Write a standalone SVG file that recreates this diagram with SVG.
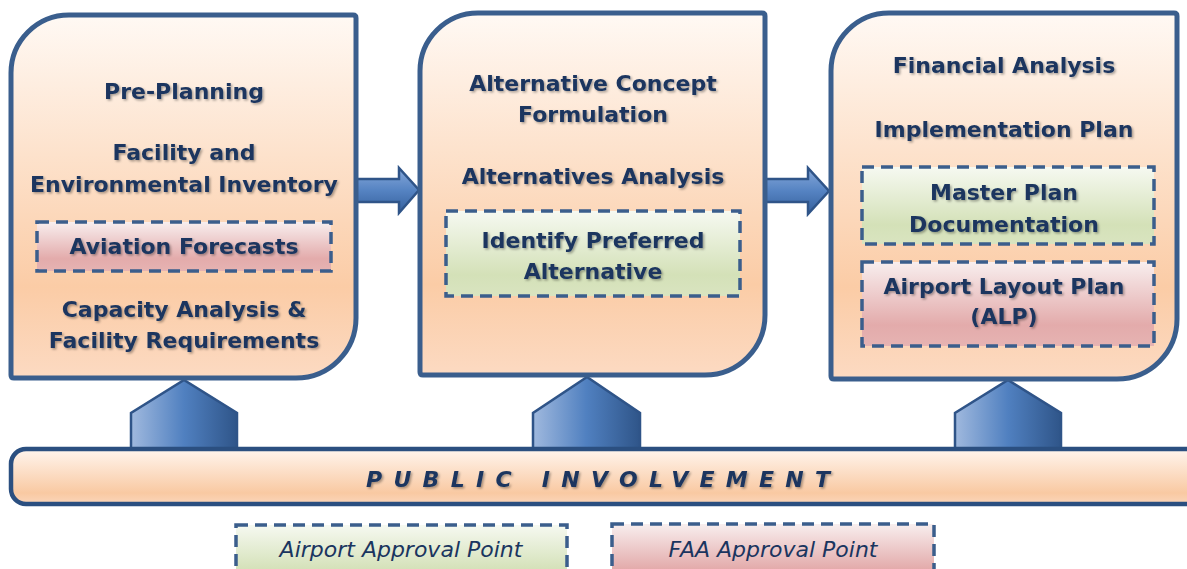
<svg xmlns="http://www.w3.org/2000/svg" width="1187" height="569" viewBox="0 0 1187 569">
  <defs>
    <linearGradient id="gBox" x1="0" y1="0" x2="0" y2="1">
      <stop offset="0" stop-color="#fff9f4"/>
      <stop offset="0.75" stop-color="#fbcca6"/>
      <stop offset="1" stop-color="#fcdac2"/>
    </linearGradient>
    <linearGradient id="gBar" x1="0" y1="0" x2="0" y2="1">
      <stop offset="0" stop-color="#fff5ee"/>
      <stop offset="0.8" stop-color="#f9c9a2"/>
      <stop offset="1" stop-color="#fbd6bb"/>
    </linearGradient>
    <linearGradient id="gPink" x1="0" y1="0" x2="0" y2="1">
      <stop offset="0" stop-color="#f8eeee"/>
      <stop offset="0.75" stop-color="#e3abab"/>
      <stop offset="1" stop-color="#e6b3b2"/>
    </linearGradient>
    <linearGradient id="gGreen" x1="0" y1="0" x2="0" y2="1">
      <stop offset="0" stop-color="#f6f9f1"/>
      <stop offset="0.75" stop-color="#d4e1b8"/>
      <stop offset="1" stop-color="#d9e4c0"/>
    </linearGradient>
    <linearGradient id="gArrow" x1="0" y1="0" x2="0" y2="1">
      <stop offset="0" stop-color="#86a8da"/>
      <stop offset="0.5" stop-color="#5583c2"/>
      <stop offset="1" stop-color="#35609c"/>
    </linearGradient>
    <linearGradient id="gPent" x1="0" y1="0" x2="1" y2="0">
      <stop offset="0" stop-color="#a0b9de"/>
      <stop offset="0.5" stop-color="#5080c0"/>
      <stop offset="1" stop-color="#2f5589"/>
    </linearGradient>
    <filter id="sh" x="-10%" y="-30%" width="120%" height="160%">
      <feDropShadow dx="1.5" dy="1.5" stdDeviation="1" flood-color="#000" flood-opacity="0.35"/>
    </filter>
  </defs>
  <style>
    .box { fill: url(#gBox); stroke: #3a5e8d; stroke-width: 5; }
    .dash { stroke: #3b5e8c; stroke-width: 3.5; stroke-dasharray: 12 7; }
    .pink { fill: url(#gPink); }
    .green { fill: url(#gGreen); }
    .t { font-family: "DejaVu Sans", "Liberation Sans", sans-serif; font-weight: bold; font-size: 22px; fill: #1a355f; text-anchor: middle; filter: url(#sh); }
    .leg { font-family: "DejaVu Sans", "Liberation Sans", sans-serif; font-style: italic; font-weight: normal; font-size: 22px; fill: #1a355f; text-anchor: middle; }
    .pi { font-family: "DejaVu Sans", "Liberation Sans", sans-serif; font-weight: bold; font-style: italic; font-size: 22px; fill: #1a355f; filter: url(#sh); }
    .arrow { fill: url(#gArrow); stroke: #2f5488; stroke-width: 2.5; }
    .pent { fill: url(#gPent); stroke: #2f5488; stroke-width: 2.5; }
  </style>

  <g id="connectors">
    <path class="arrow" d="M355,179 L399,179 L399,168 L419,190 L399,213 L399,202 L355,202 Z"/>
    <path class="arrow" d="M764,179 L808,179 L808,168 L829,191 L808,214 L808,202 L764,202 Z"/>
    <path class="pent" d="M131,449 L131,413 L184,380 L237,413 L237,449 Z"/>
    <path class="pent" d="M533,449 L533,413 L587,377 L640,413 L640,449 Z"/>
    <path class="pent" d="M955,449 L955,413 L1008,380 L1061,413 L1061,449 Z"/>
  </g>

  <g id="box1">
    <path class="box" d="M11,73 A58,58 0 0 1 69,15 L353,15 Q356,15 356,18 L356,318 A60,60 0 0 1 296,378 L14,378 Q11,378 11,375 Z"/>
    <text class="t" x="184" y="99">Pre-Planning</text>
    <text class="t" x="184" y="160">Facility and</text>
    <text class="t" x="184" y="192">Environmental Inventory</text>
    <rect class="dash pink" x="37" y="222" width="294" height="49"/>
    <text class="t" x="184" y="254">Aviation Forecasts</text>
    <text class="t" x="184" y="317">Capacity Analysis &amp;</text>
    <text class="t" x="184" y="348">Facility Requirements</text>
  </g>

  <g id="box2">
    <path class="box" d="M420,71 A58,58 0 0 1 478,13 L762,13 Q765,13 765,16 L765,315 A60,60 0 0 1 705,375 L423,375 Q420,375 420,372 Z"/>
    <text class="t" x="593" y="91">Alternative Concept</text>
    <text class="t" x="593" y="122">Formulation</text>
    <text class="t" x="593" y="184">Alternatives Analysis</text>
    <rect class="dash green" x="446" y="211" width="294" height="85"/>
    <text class="t" x="593" y="248">Identify Preferred</text>
    <text class="t" x="593" y="279">Alternative</text>
  </g>

  <g id="box3">
    <path class="box" d="M831,71 A58,58 0 0 1 889,13 L1174,13 Q1177,13 1177,16 L1177,319 A60,60 0 0 1 1117,379 L834,379 Q831,379 831,376 Z"/>
    <text class="t" x="1004" y="73">Financial Analysis</text>
    <text class="t" x="1004" y="137">Implementation Plan</text>
    <rect class="dash green" x="862" y="167" width="292" height="77"/>
    <text class="t" x="1004" y="200">Master Plan</text>
    <text class="t" x="1004" y="232">Documentation</text>
    <rect class="dash pink" x="862" y="262" width="292" height="84"/>
    <text class="t" x="1004" y="294">Airport Layout Plan</text>
    <text class="t" x="1004" y="324">(ALP)</text>
  </g>

  <g id="public-involvement">
    <rect x="11" y="449" width="1200" height="55" rx="15" ry="15" fill="url(#gBar)" stroke="#2b4f80" stroke-width="4.5"/>
    <text class="pi" x="366" y="487" textLength="464" lengthAdjust="spacing">PUBLIC INVOLVEMENT</text>
  </g>

  <g id="legend-airport">
    <rect class="dash green" x="236" y="525" width="331" height="60"/>
    <text class="leg" x="401" y="557">Airport Approval Point</text>
  </g>
  <g id="legend-faa">
    <rect class="dash pink" x="612" y="524" width="322" height="60"/>
    <text class="leg" x="773" y="557">FAA Approval Point</text>
  </g>
</svg>
